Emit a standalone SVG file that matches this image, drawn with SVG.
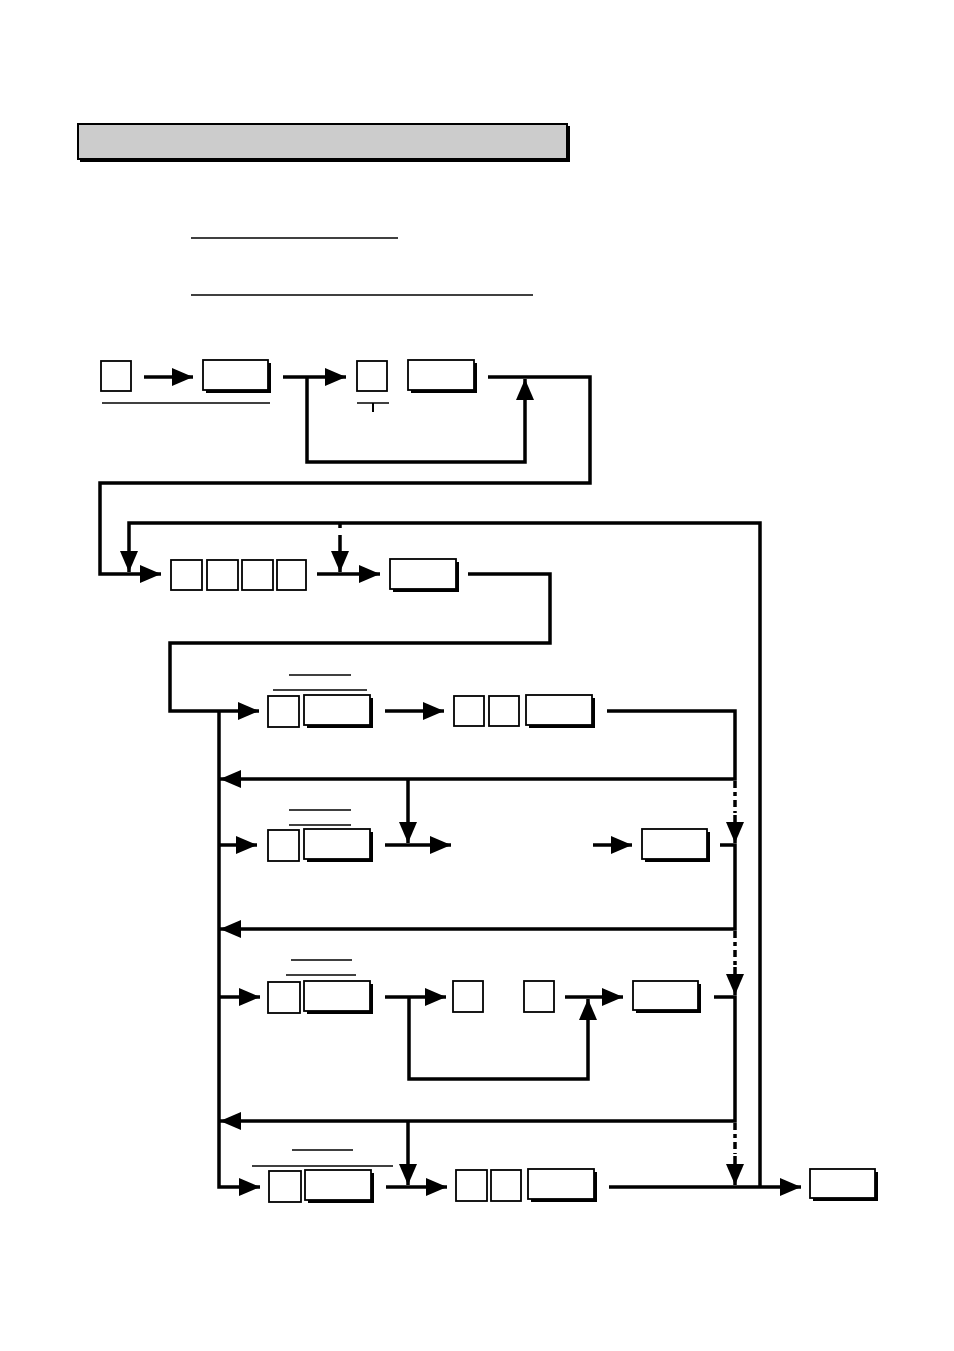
<svg xmlns="http://www.w3.org/2000/svg" width="954" height="1351" viewBox="0 0 954 1351">
<style>
.c{fill:none;stroke:#000;stroke-width:3.5;stroke-linejoin:miter;stroke-linecap:butt}
.a{marker-end:url(#ah)}
.d{fill:none;stroke:#000;stroke-width:3.5;stroke-dasharray:7 4 4 4}
.t{fill:none;stroke:#000;stroke-width:1.5}
.sb{fill:#fff;stroke:#000;stroke-width:1.8}
.kb{fill:#fff;stroke:#000;stroke-width:1.8}
.ks{fill:#000}
</style>
<defs>
<marker id="ah" markerUnits="userSpaceOnUse" markerWidth="21" markerHeight="18" refX="21" refY="9" orient="auto">
<path d="M0,0 L21,9 L0,18 z" fill="#000"/>
</marker>
</defs>
<rect width="954" height="1351" fill="#fff"/>
<g id="title"><rect x="80" y="126" width="490" height="36" fill="#000"/><rect x="78" y="124" width="489" height="35" fill="#cccccc" stroke="#000" stroke-width="2"/></g>
<g id="underlines">
<line class="t" x1="191" y1="238" x2="398" y2="238"/>
<line class="t" x1="191" y1="295" x2="533" y2="295"/>
<line class="t" x1="102" y1="403" x2="270" y2="403"/>
<path class="t" d="M357,403 H389"/>
<path class="c" d="M373,403 V412" style="stroke-width:2"/>
<line class="t" x1="289" y1="675" x2="351" y2="675"/>
<line class="t" x1="273" y1="690" x2="367" y2="690"/>
<line class="t" x1="289" y1="810" x2="351" y2="810"/>
<line class="t" x1="289" y1="825" x2="351" y2="825"/>
<line class="t" x1="291" y1="960" x2="352" y2="960"/>
<line class="t" x1="286" y1="975" x2="356" y2="975"/>
<line class="t" x1="292" y1="1150" x2="353" y2="1150"/>
<line class="t" x1="252" y1="1166" x2="393" y2="1166"/>
</g>
<g id="connectors">
<path class="c a" d="M144,377 H193"/>
<path class="c a" d="M283,377 H346"/>
<path class="c a" d="M307,377 V462 H525 V379"/>
<path class="c a" d="M488,377 H590 V483 H100 V574 H161"/>
<path class="c a" d="M760,1187 V523 H129 V572"/>
<path class="c" d="M340,523 V528"/>
<path class="c a" d="M340,535 V572"/>
<path class="c a" d="M317,574 H380"/>
<path class="c a" d="M468,574 H550 V643 H170 V711 H259"/>
<path class="c a" d="M219,711 V1187 H260"/>
<path class="c a" d="M219,845 H257"/>
<path class="c a" d="M219,997 H260"/>
<path class="c a" d="M385,711 H444"/>
<path class="c a" d="M607,711 H735 V779 H220"/>
<path class="c a" d="M408,779 V843"/>
<path class="d" d="M735,781 V813"/>
<path class="c a" d="M735,815 V843"/>
<path class="c a" d="M385,845 H451"/>
<path class="c a" d="M593,845 H632"/>
<path class="c a" d="M720,845 H735 V929 H220"/>
<path class="d" d="M735,931 V965"/>
<path class="c a" d="M735,967 V995"/>
<path class="c a" d="M385,997 H446"/>
<path class="c a" d="M409,997 V1079 H588 V999"/>
<path class="c a" d="M565,997 H623"/>
<path class="c a" d="M714,997 H735 V1121 H220"/>
<path class="c a" d="M408,1121 V1185"/>
<path class="d" d="M735,1123 V1154"/>
<path class="c a" d="M735,1156 V1185"/>
<path class="c a" d="M386,1187 H447"/>
<path class="c a" d="M609,1187 H801"/>
</g>
<g id="row1">
<g id="n1"><rect class="sb" x="101" y="361" width="30" height="30"/></g>
<g id="n2"><rect class="ks" x="206" y="363" width="65" height="30"/><rect class="kb" x="203" y="360" width="65" height="30"/></g>
<g id="n3"><rect class="sb" x="357" y="361" width="30" height="30"/></g>
<g id="n4"><rect class="ks" x="411" y="363" width="66" height="30"/><rect class="kb" x="408" y="360" width="66" height="30"/></g>
</g>
<g id="row2">
<g id="n5"><rect class="sb" x="171" y="560" width="31" height="30"/></g>
<g id="n6"><rect class="sb" x="207" y="560" width="31" height="30"/></g>
<g id="n7"><rect class="sb" x="242" y="560" width="31" height="30"/></g>
<g id="n8"><rect class="sb" x="277" y="560" width="29" height="30"/></g>
<g id="n9"><rect class="ks" x="393" y="562" width="66" height="30"/><rect class="kb" x="390" y="559" width="66" height="30"/></g>
</g>
<g id="row3">
<g id="n10"><rect class="sb" x="268" y="696" width="31" height="31"/></g>
<g id="n11"><rect class="ks" x="307" y="698" width="66" height="30"/><rect class="kb" x="304" y="695" width="66" height="30"/></g>
<g id="n12"><rect class="sb" x="454" y="696" width="30" height="30"/></g>
<g id="n13"><rect class="sb" x="489" y="696" width="30" height="30"/></g>
<g id="n14"><rect class="ks" x="529" y="698" width="66" height="30"/><rect class="kb" x="526" y="695" width="66" height="30"/></g>
</g>
<g id="row4">
<g id="n15"><rect class="sb" x="268" y="830" width="31" height="31"/></g>
<g id="n16"><rect class="ks" x="307" y="832" width="66" height="30"/><rect class="kb" x="304" y="829" width="66" height="30"/></g>
<g id="n17"><rect class="ks" x="645" y="832" width="65" height="30"/><rect class="kb" x="642" y="829" width="65" height="30"/></g>
</g>
<g id="row5">
<g id="n18"><rect class="sb" x="268" y="982" width="32" height="31"/></g>
<g id="n19"><rect class="ks" x="307" y="984" width="66" height="30"/><rect class="kb" x="304" y="981" width="66" height="30"/></g>
<g id="n20"><rect class="sb" x="453" y="981" width="30" height="31"/></g>
<g id="n21"><rect class="sb" x="524" y="981" width="30" height="31"/></g>
<g id="n22"><rect class="ks" x="636" y="984" width="65" height="29"/><rect class="kb" x="633" y="981" width="65" height="29"/></g>
</g>
<g id="row6">
<g id="n23"><rect class="sb" x="269" y="1171" width="32" height="31"/></g>
<g id="n24"><rect class="ks" x="308" y="1173" width="66" height="30"/><rect class="kb" x="305" y="1170" width="66" height="30"/></g>
<g id="n25"><rect class="sb" x="456" y="1170" width="31" height="31"/></g>
<g id="n26"><rect class="sb" x="491" y="1170" width="30" height="31"/></g>
<g id="n27"><rect class="ks" x="531" y="1172" width="66" height="30"/><rect class="kb" x="528" y="1169" width="66" height="30"/></g>
<g id="n28"><rect class="ks" x="813" y="1172" width="65" height="29"/><rect class="kb" x="810" y="1169" width="65" height="29"/></g>
</g>
</svg>
